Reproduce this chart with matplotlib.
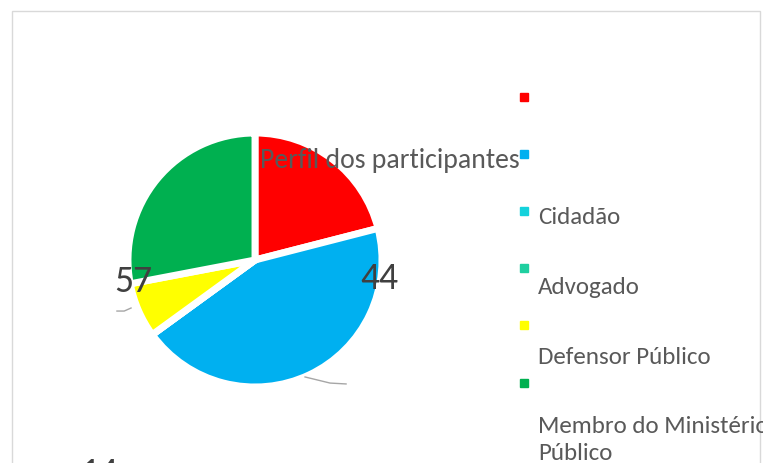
import matplotlib
matplotlib.use("Agg")
import matplotlib.pyplot as plt
from matplotlib.patches import Rectangle

# data
categories = ["", "", "Cidadão", "Advogado", "Defensor Público", "Membro do Ministério\nPúblico"]
values = [21, 44, 0, 0, 7, 28]
colors = ["#FF0000", "#00B0F0", "#14D2DC", "#1FCFA0", "#FFFF00", "#00B050"]
data_labels = ["44", "57", "14"]

font = "Carlito"
txt = "#595959"

W, H = 763, 463
fig = plt.figure(figsize=(W / 100, H / 100), dpi=100)

# chart frame
fig.patches.append(Rectangle((12 / W, -0.1), (760 - 12) / W, 1.1 - 11 / H,
                             transform=fig.transFigure, fill=False,
                             edgecolor="#D9D9D9", linewidth=1))

cx, cy, r = 255, 260, 127
ax = fig.add_axes([(cx - r) / W, (H - cy - r) / H, 2 * r / W, 2 * r / H])
ax.pie(values, colors=colors, startangle=90, counterclock=False,
       wedgeprops=dict(edgecolor="white", linewidth=5))
ax.set_xlim(-1, 1)
ax.set_ylim(-1, 1)
ax.axis("off")

# data labels and leader lines
lab_kw = dict(fontsize=27, color="#404040", family=font, ha="center", va="center", clip_on=False)
ax.text(0.976, -0.142, data_labels[0], **lab_kw)
ax.text(-0.96, -0.173, data_labels[1], **lab_kw)
ax.text(-1.22, -1.68, data_labels[2], **lab_kw)
ax.plot([0.394, 0.591, 0.717], [-0.921, -0.969, -0.976], color="#A6A6A6", lw=1, clip_on=False)
ax.plot([-0.976, -1.03, -1.087], [-0.378, -0.402, -0.402], color="#A6A6A6", lw=1, clip_on=False)

# title
fig.text(260 / W, 1 - 161 / H, "Perfil dos participantes", fontsize=20, color=txt,
         family=font, ha="left", va="center")

# legend drawn by hand
marker_y = [97, 154, 211, 268, 325, 383]
text_y = [97, 154, 218, 288, 357, 440]
for i, (lab, c) in enumerate(zip(categories, colors)):
    fig.patches.append(Rectangle((520 / W, 1 - (marker_y[i] + 4) / H), 8 / W, 8 / H,
                                 transform=fig.transFigure, color=c))
    if lab:
        fig.text(538 / W, 1 - text_y[i] / H, lab, fontsize=18, color=txt,
                 family=font, ha="left", va="center", linespacing=1.3)

fig.savefig("out.png", dpi=100)
